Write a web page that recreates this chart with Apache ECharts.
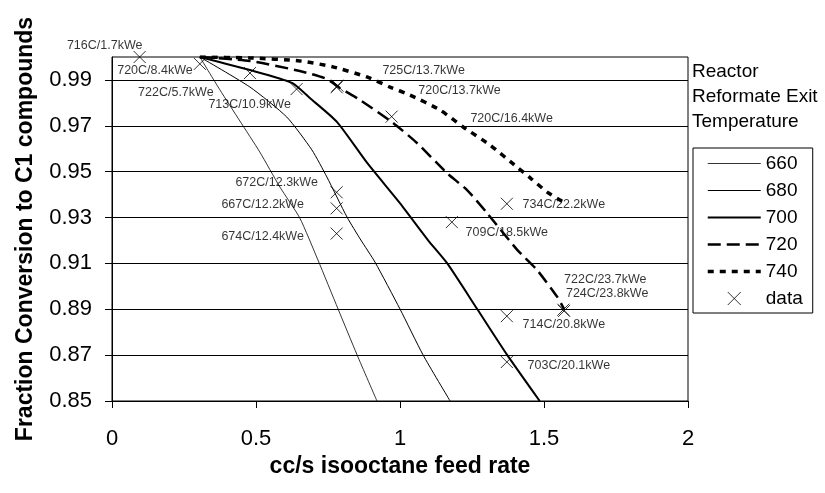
<!DOCTYPE html>
<html>
<head>
<meta charset="utf-8">
<title>Fraction conversion vs isooctane feed rate</title>
<script src="https://cdn.jsdelivr.net/npm/echarts@6/dist/echarts.min.js"></script>
<style>
  html, body { margin: 0; padding: 0; background: #fff; }
  #main { width: 825px; height: 493px; }
</style>
</head>
<body>
<div id="main"></div>
<script>
// model curves, one per reactor reformate exit temperature
var x660 = [0.305, 0.374, 0.444, 0.513, 0.583, 0.652, 0.715, 0.785, 0.851, 0.920];
var y660 = [1.000, 0.9858, 0.9721, 0.9586, 0.9433, 0.9298, 0.9115, 0.8901, 0.8701, 0.850];

var x680 = [0.305, 0.479, 0.607, 0.694, 0.746, 0.816, 0.864, 0.913, 1.000, 1.080, 1.174];
var y680 = [1.000, 0.9869, 0.9738, 0.9595, 0.9477, 0.9302, 0.9202, 0.9106, 0.8901, 0.8701, 0.850];

var x700 = [0.305, 0.479, 0.625, 0.687, 0.781, 0.886, 0.999, 1.097, 1.163, 1.268, 1.372, 1.485];
var y700 = [1.000, 0.9943, 0.9887, 0.9821, 0.9717, 0.9538, 0.9364, 0.9202, 0.9102, 0.8901, 0.8701, 0.850];

var x720 = [0.305, 0.479, 0.652, 0.746, 0.791, 0.861, 0.976, 1.059, 1.163, 1.233, 1.302, 1.407, 1.476, 1.546, 1.570];
var y720 = [1.000, 0.9983, 0.9939, 0.9904, 0.9865, 0.9813, 0.9712, 0.9625, 0.9494, 0.9420, 0.9320, 0.9159, 0.9071, 0.8954, 0.8901];

var x740 = [0.305, 0.479, 0.652, 0.767, 0.885, 0.965, 1.035, 1.139, 1.219, 1.313, 1.406, 1.452, 1.511, 1.567];
var y740 = [1.000, 0.9996, 0.9983, 0.9957, 0.9913, 0.9869, 0.9834, 0.9769, 0.9695, 0.9616, 0.9520, 0.9473, 0.9411, 0.9368];

// measured points
var markX = [0.096, 0.305, 0.479, 0.641, 0.780, 0.783, 0.971, 0.780, 0.780, 0.780, 1.180, 1.371, 1.371, 1.371, 1.567, 1.570];
var markY = [1.000, 0.997, 0.993, 0.986, 0.9868, 0.9875, 0.974, 0.941, 0.934, 0.923, 0.928, 0.936, 0.887, 0.867, 0.8898, 0.8893];
var markText = ["716C/1.7kWe", "722C/5.7kWe", "720C/8.4kWe", "713C/10.9kWe", "725C/13.7kWe", "720C/13.7kWe",
  "720C/16.4kWe", "672C/12.3kWe", "667C/12.2kWe", "674C/12.4kWe", "709C/18.5kWe", "734C/22.2kWe",
  "714C/20.8kWe", "703C/20.1kWe", "722C/23.7kWe", "724C/23.8kWe"];

var yTicks = [0.85, 0.87, 0.89, 0.91, 0.93, 0.95, 0.97, 0.99];

var font = "'Liberation Sans', Arial, sans-serif";

// where each point label sits, relative to its cross (px)
var labelShift = [[-35, -11], [-24, 29], [-95, -3], [-47, 15], [87, -17], [122, 5], [120, 2],
  [-60, -10], [-74, -4], [-74, 3], [55, 10], [57, 1], [57, 8], [62, 4], [42, -30], [43, -17]];

function pairs (xs, ys) {
  return xs.map(function (v, i) { return [v, ys[i]]; });
}

function curve (name, xs, ys, width, type) {
  return {
    name: name,
    type: "line",
    data: pairs(xs, ys),
    symbol: "circle",
    showSymbol: false,
    smooth: 0.2,
    // keep the legend to a plain line sample
    itemStyle: { color: "transparent", borderColor: "transparent", borderWidth: 0 },
    lineStyle: { color: "#000", width: width, type: type },
    z: 2
  };
}

var myChart = echarts.init(document.getElementById("main"));

var option = {
  animation: false,
  backgroundColor: "#fff",
  textStyle: { fontFamily: font, color: "#000" },
  title: {
    text: "Reactor\nReformate Exit\nTemperature",
    left: 692,
    top: 59,
    padding: 0,
    textStyle: { fontFamily: font, fontSize: 19, fontWeight: "normal", lineHeight: 25, color: "#000" }
  },
  grid: {
    left: 112,
    right: 137,
    top: 57,
    bottom: 92,
    show: true,
    borderColor: "#000",
    borderWidth: 1,
    containLabel: false
  },
  legend: {
    orient: "vertical",
    left: 693,
    top: 148,
    padding: [6, 10, 5, 13],
    itemWidth: 53,
    itemHeight: 13,
    itemGap: 8,
    borderColor: "#000",
    borderWidth: 1,
    selectedMode: false,
    lineStyle: { width: "inherit", type: "inherit" },
    itemStyle: { borderWidth: "inherit" },
    textStyle: { fontFamily: font, fontSize: 19, color: "#000" },
    data: ["660", "680", "700", "720", "740", "data"]
  },
  xAxis: {
    type: "value",
    min: 0,
    max: 2,
    interval: 0.5,
    name: "cc/s isooctane feed rate",
    nameLocation: "middle",
    nameGap: 40,
    nameTextStyle: { fontFamily: font, fontSize: 23, fontWeight: "bold", color: "#000" },
    axisLine: { show: true, onZero: false, lineStyle: { color: "#000", width: 1 } },
    axisTick: { show: true, inside: false, length: 7, lineStyle: { color: "#000" } },
    axisLabel: { fontFamily: font, fontSize: 22, color: "#000", margin: 27 },
    splitLine: { show: false }
  },
  yAxis: {
    type: "value",
    min: 0.85,
    max: 1.0,
    name: "Fraction Conversion to C1 compounds",
    nameLocation: "middle",
    nameGap: 75,
    nameTextStyle: { fontFamily: font, fontSize: 23, fontWeight: "bold", color: "#000" },
    axisLine: { show: true, onZero: false, lineStyle: { color: "#000", width: 1 } },
    axisTick: { show: true, inside: false, length: 7, customValues: yTicks, lineStyle: { color: "#000" } },
    axisLabel: {
      fontFamily: font, fontSize: 22, color: "#000", margin: 20,
      customValues: yTicks,
      formatter: function (v) { return v.toFixed(2); }
    },
    splitLine: { show: true, lineStyle: { color: "#000", width: 1 } }
  },
  series: [
    curve("660", x660, y660, 0.8, "solid"),
    curve("680", x680, y680, 1, "solid"),
    curve("700", x700, y700, 2, "solid"),
    curve("720", x720, y720, 2.5, [13, 6]),
    curve("740", x740, y740, 3.5, [6, 6]),
    {
      name: "data",
      type: "scatter",
      symbol: "path://M0,0L10,10M10,0L0,10",
      symbolSize: 12,
      itemStyle: { color: "transparent", borderColor: "#000", borderWidth: 1 },
      z: 5,
      label: {
        show: true,
        position: "inside",
        align: "center",
        verticalAlign: "middle",
        fontFamily: font,
        fontSize: 12.5,
        color: "#000",
        formatter: function (p) { return markText[p.dataIndex]; }
      },
      data: markX.map(function (v, i) {
        return { value: [v, markY[i]], label: { offset: labelShift[i] } };
      })
    }
  ]
};

myChart.setOption(option);
</script>
</body>
</html>
